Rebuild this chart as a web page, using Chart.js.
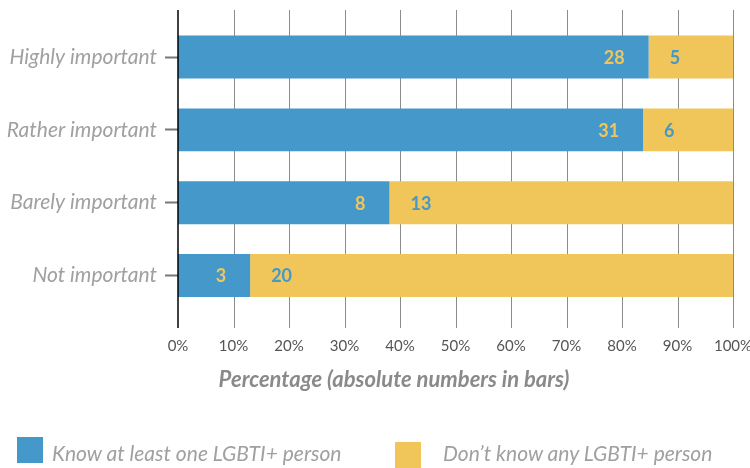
<!DOCTYPE html>
<html>
<head>
<meta charset="utf-8">
<script src="https://cdn.jsdelivr.net/npm/chart.js@4/dist/chart.umd.min.js"></script>
<style>
  body { margin: 0; background: #fff; }
  #wrap { position: relative; width: 750px; height: 468px; }
  .legend-item { position: absolute; font-family: Lato, sans-serif; font-style: italic; font-size: 21px; color: #a0a0a0; white-space: nowrap; }
  .legend-box { position: absolute; width: 26px; height: 26px; }
</style>
</head>
<body>
<div id="wrap">
  <canvas id="chart"></canvas>
  <div id="legend"></div>
</div>
<script>
const categories = ['Highly important', 'Rather important', 'Barely important', 'Not important'];
const seriesNames = ['Know at least one LGBTI+ person', 'Don\u2019t know any LGBTI+ person'];
const axisTitle = 'Percentage (absolute numbers in bars)';
// absolute numbers shown in the bars
const knowCounts = [28, 31, 8, 3];
const dontKnowCounts = [5, 6, 13, 20];
// percentages (bar lengths)
const knowPct = [84.8, 83.8, 38.1, 13.0];
const dontKnowPct = [15.2, 16.2, 61.9, 87.0];

const BLUE = '#4598ca';
const YELLOW = '#f0c55a';

// gridlines that run a bit past the plot area, like the original
const gridPlugin = {
    id: 'grid',
    beforeDatasetsDraw(chart) {
        const { ctx, chartArea, scales: { x } } = chart;
        ctx.save();
        ctx.strokeStyle = '#8c8c8c';
        ctx.lineWidth = 1;
        x.ticks.forEach(t => {
            if (t.value === 0) return;
            const px = Math.round(x.getPixelForValue(t.value)) + 0.5;
            ctx.beginPath();
            ctx.moveTo(px, 10);
            ctx.lineTo(px, chartArea.bottom + 16);
            ctx.stroke();
        });
        ctx.restore();
    },
    afterDatasetsDraw(chart) {
        const { ctx, chartArea, scales: { x } } = chart;
        ctx.save();
        ctx.strokeStyle = '#000';
        ctx.lineWidth = 1.5;
        const px = x.getPixelForValue(0);
        ctx.beginPath();
        ctx.moveTo(px, 10);
        ctx.lineTo(px, chartArea.bottom + 16);
        ctx.stroke();
        ctx.restore();
    },
    afterDraw(chart) {
        const { ctx } = chart;
        ctx.save();
        ctx.font = 'italic bold 22px Lato, sans-serif';
        ctx.fillStyle = '#8a8a8a';
        ctx.textAlign = 'center';
        ctx.textBaseline = 'middle';
        ctx.fillText(axisTitle, 394, 380);
        ctx.restore();
    }
};

// numbers inside the bars
const barLabels = {
    id: 'barLabels',
    afterDatasetsDraw(chart) {
        const { ctx } = chart;
        ctx.save();
        ctx.font = 'bold 18px Lato, sans-serif';
        ctx.textBaseline = 'middle';
        chart.getDatasetMeta(0).data.forEach((bar, i) => {
            ctx.fillStyle = YELLOW;
            ctx.textAlign = 'right';
            ctx.fillText(knowCounts[i], bar.x - 24, bar.y + 1);
        });
        chart.getDatasetMeta(1).data.forEach((bar, i) => {
            ctx.fillStyle = BLUE;
            ctx.textAlign = 'left';
            ctx.fillText(dontKnowCounts[i], bar.base + 21, bar.y + 1);
        });
        ctx.restore();
    }
};

const ctx = document.getElementById('chart').getContext('2d');
new Chart(ctx, {
    type: 'bar',
    data: {
        labels: categories,
        datasets: [
            { label: seriesNames[0], data: knowPct, backgroundColor: BLUE },
            { label: seriesNames[1], data: dontKnowPct, backgroundColor: YELLOW }
        ]
    },
    options: {
        indexAxis: 'y',
        responsive: true,
        maintainAspectRatio: false,
        animation: false,
        layout: { padding: { top: 20, right: 17, left: 0, bottom: 101 } },
        datasets: { bar: { categoryPercentage: 1, barPercentage: 0.59, borderWidth: 0 } },
        scales: {
            x: {
                stacked: true,
                min: 0,
                max: 100,
                ticks: {
                    stepSize: 10,
                    padding: 25,
                    color: '#555',
                    font: { family: 'Lato, sans-serif', size: 15 },
                    callback: v => v + '%'
                },
                grid: { display: false, drawTicks: false },
                border: { display: false },
                afterFit: s => { s.height = 55; s.paddingLeft = 0; s.paddingRight = 0; }
            },
            y: {
                stacked: true,
                ticks: {
                    padding: 8,
                    color: '#a0a0a0',
                    font: { family: 'Lato, sans-serif', size: 21, style: 'italic' }
                },
                grid: { offset: false, drawOnChartArea: false, drawTicks: true, tickLength: 13, tickColor: '#777', tickWidth: 2 },
                border: { display: false },
                afterFit: s => { s.width = 178; }
            }
        },
        plugins: {
            legend: { display: false },
            tooltip: { enabled: false }
        }
    },
    plugins: [gridPlugin, barLabels]
});

// legend below the chart
const legendEl = document.getElementById('legend');
const legendPos = [{ box: [17, 437], text: [52, 440] }, { box: [395, 442], text: [443, 440] }];
[BLUE, YELLOW].forEach((c, i) => {
    const box = document.createElement('div');
    box.className = 'legend-box';
    box.style.background = c;
    box.style.left = legendPos[i].box[0] + 'px';
    box.style.top = legendPos[i].box[1] + 'px';
    legendEl.appendChild(box);
    const txt = document.createElement('div');
    txt.className = 'legend-item';
    txt.textContent = seriesNames[i];
    txt.style.left = legendPos[i].text[0] + 'px';
    txt.style.top = legendPos[i].text[1] + 'px';
    legendEl.appendChild(txt);
});
</script>
</body>
</html>
